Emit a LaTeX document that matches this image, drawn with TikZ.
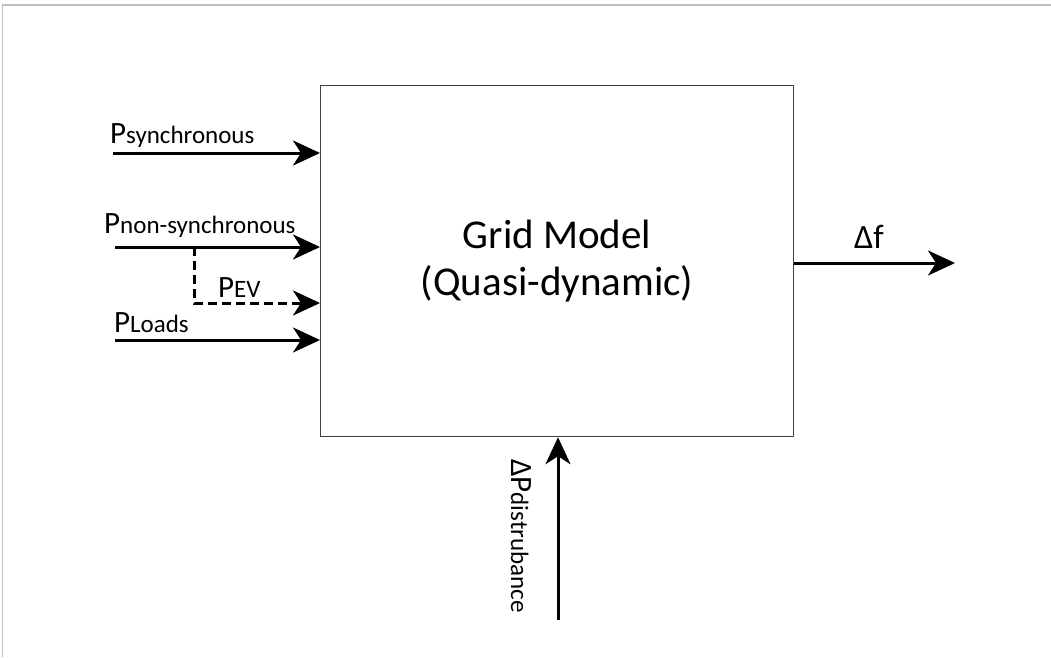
\documentclass[tikz,border=0pt]{standalone}
\usepackage{fontspec}
\setmainfont{Carlito}
\usetikzlibrary{arrows.meta}
\newcommand{\bigP}[1]{{\fontsize{31}{33}\selectfont #1}}
\newcommand{\smallsub}[1]{{\fontsize{25}{27}\selectfont #1}}
\begin{document}
\begin{tikzpicture}[x=1pt,y=-1pt,
  flow/.style={line width=3pt,-{Stealth[length=27pt,width=25pt,inset=8pt]}},
  dflow/.style={line width=3pt,dash pattern=on 9pt off 5pt,-{Stealth[length=27pt,width=25pt,inset=8pt]}},
  lbl/.style={inner sep=0pt,anchor=base west},
  frame/.style={draw=black!25,line width=1.4pt}]
\useasboundingbox (0,0) rectangle (1051,657);
\draw[frame] (2.5,657) -- (2.5,5) -- (1051,5);
\node[draw=black!75,line width=1.2pt,minimum width=473pt,minimum height=351pt,anchor=north west,inner sep=0pt,align=center,
  font=\fontsize{41}{47}\selectfont] (grid) at (320,85) {Grid Model\\(Quasi-dynamic)};
% inputs
\coordinate (s1) at (113,153);
\coordinate (s2) at (115,247);
\coordinate (br) at (194,247);
\coordinate (s4) at (115,340);
\draw[flow] (s1) -- (s1 -| grid.west);
\draw[flow] (s2) -- (s2 -| grid.west);
\draw[dflow] (br) -- ++(0,56) coordinate (bc) -- (bc -| grid.west);
\draw[flow] (s4) -- (s4 -| grid.west);
\node[lbl] (l1) at (110,143) {\bigP{P}\smallsub{synchronous}};
\node[lbl] (l2) at (104,233) {\bigP{P}\smallsub{non-synchronous}};
\node[lbl] (l3) at (218,297) {\bigP{P}\smallsub{EV}};
\node[lbl] (l4) at (114,332) {\bigP{P}\smallsub{Loads}};
% output
\coordinate (fo) at (955,263);
\draw[flow] (fo -| grid.east) -- (fo);
\node[lbl] (l5) at (854,248) {\fontsize{34}{36}\selectfont Δf};
% disturbance
\coordinate (dp) at (558,620);
\draw[flow] (dp) -- (dp |- grid.south);
\node[lbl,rotate=-90] (l6) at (511,459) {\bigP{ΔP}\smallsub{distrubance}};
\end{tikzpicture}
\end{document}
